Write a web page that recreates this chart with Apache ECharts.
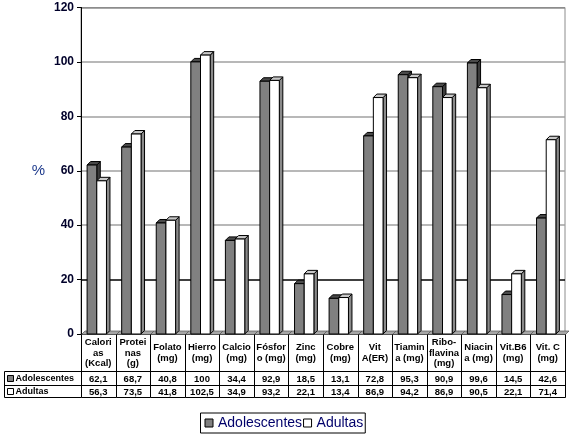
<!DOCTYPE html>
<html><head><meta charset="utf-8">
<script src="https://cdn.jsdelivr.net/npm/echarts@6/dist/echarts.min.js"></script>
<style>html,body{margin:0;padding:0;background:#fff}#c{width:580px;height:439px}</style>
</head><body><div id="c"></div>
<script>
const categories = ['Calori\nas\n(Kcal)','Protei\nnas\n(g)','Folato\n(mg)','Hierro\n(mg)','Calcio\n(mg)','Fósfor\no (mg)','Zinc\n(mg)','Cobre\n(mg)','Vit\nA(ER)','Tiamin\na (mg)','Ribo-\nflavina\n(mg)','Niacin\na (mg)','Vit.B6\n(mg)','Vit. C\n(mg)'];
const seriesNames = ['Adolescentes','Adultas'];
const adolescentes = [62.1,68.7,40.8,100,34.4,92.9,18.5,13.1,72.8,95.3,90.9,99.6,14.5,42.6];
const adultas = [56.3,73.5,41.8,102.5,34.9,93.2,22.1,13.4,86.9,94.2,86.9,90.5,22.1,71.4];
const yTicks = [0,20,40,60,80,100,120];

const FONT = '"Liberation Sans", Arial, sans-serif';
const fmt = v => String(v).replace('.', ',');
const DX = 3.5, DY = 3.5;
const styles = [
  {front:'#808080', top:'#4a4a4a', side:'#3c3c3c'},
  {front:'#ffffff', top:'#c8c8c8', side:'#8a8a8a'}
];

function barRender(s){
  return function(params, api){
    const i = api.value(0), v = api.value(1);
    const top = api.coord([i, v]);
    const base = api.coord([i, 0]);
    const band = api.size([1,0])[0];
    const bw = band*0.28;
    const x = top[0] - 1.5 - bw + s*bw;
    const yT = top[1], yB = base[1];
    const st = styles[s];
    const line = {stroke:'#000', lineWidth:1};
    return {type:'group', children:[
      {type:'polygon', shape:{points:[[x+bw,yT],[x+bw+DX,yT-DY],[x+bw+DX,yB-DY],[x+bw,yB]]}, style:Object.assign({fill:st.side}, line)},
      {type:'polygon', shape:{points:[[x,yT],[x+DX,yT-DY],[x+bw+DX,yT-DY],[x+bw,yT]]}, style:Object.assign({fill:st.top}, line)},
      {type:'rect', shape:{x:x, y:yT, width:bw, height:yB-yT}, style:Object.assign({fill:st.front}, line)}
    ]};
  };
}

function tableRender(params, api){
  const i = api.value(0);
  const band = api.size([1,0])[0];
  const p = api.coord([i, 0]);
  const cx = p[0], base = Math.round(p[1]) + 0.5;
  const x0 = Math.round(cx - band/2) + 0.5, x1 = Math.round(cx + band/2) + 0.5;
  const r1 = base + 37, r2 = base + 51, r3 = base + 63;
  const L = {stroke:'#000', lineWidth:1};
  const ch = [];
  // floor slab
  ch.push({type:'polygon', z2:0, shape:{points:[[x0,base],[x1,base],[x1+DX,base-DY],[x0+DX,base-DY]]}, style:{fill:'#a6a6a6', stroke:'#555', lineWidth:0.7}});
  ch.push({type:'line', shape:{x1:x0,y1:base,x2:x0,y2:r3}, style:L});
  if (i === categories.length-1) ch.push({type:'line', shape:{x1:x1,y1:base,x2:x1,y2:r3}, style:L});
  [r1,r2,r3].forEach(y => ch.push({type:'line', shape:{x1:x0,y1:y,x2:x1,y2:y}, style:L}));
  const tf = 'bold 9.5px ' + FONT;
  ch.push({type:'text', style:{text:categories[i], x:cx, y:(base+r1)/2, align:'center', verticalAlign:'middle', font:tf, lineHeight:10.5, fill:'#000'}});
  ch.push({type:'text', style:{text:fmt(adolescentes[i]), x:cx, y:(r1+r2)/2+0.5, align:'center', verticalAlign:'middle', font:tf, fill:'#000'}});
  ch.push({type:'text', style:{text:fmt(adultas[i]), x:cx, y:(r2+r3)/2+0.5, align:'center', verticalAlign:'middle', font:tf, fill:'#000'}});
  if (i === 0) {
    const lx = x0 - 77;
    [r1,r2,r3].forEach(y => ch.push({type:'line', shape:{x1:lx,y1:y,x2:x0,y2:y}, style:L}));
    ch.push({type:'line', shape:{x1:lx,y1:r1,x2:lx,y2:r3}, style:L});
    const rows = [[r1,r2,'#808080'],[r2,r3,'#ffffff']];
    rows.forEach((r, k) => {
      const my = (r[0]+r[1])/2;
      ch.push({type:'rect', shape:{x:lx+3, y:Math.round(my-3.5)+0.5, width:6, height:6}, style:{fill:r[2], stroke:'#000', lineWidth:1}});
      ch.push({type:'text', style:{text:seriesNames[k], x:lx+11, y:my+0.5, align:'left', verticalAlign:'middle', font:'bold 9px ' + FONT, fill:'#000'}});
    });
  }
  return {type:'group', children:ch};
}

const chart = echarts.init(document.getElementById('c'), null, {renderer:'canvas'});
chart.setOption({
  animation:false,
  backgroundColor:'#fff',
  grid:{left:81, right:15, top:7.5, height:326.5, show:true, borderColor:'#8c8c8c', borderWidth:1, backgroundColor:'transparent'},
  xAxis:{type:'category', data:categories, axisLabel:{show:false}, axisTick:{show:false},
    axisLine:{lineStyle:{color:'#000', width:1}}, splitLine:{show:false}},
  yAxis:{type:'value', min:yTicks[0], max:yTicks[yTicks.length-1], interval:20,
    name:'%', nameLocation:'middle', nameRotate:0, nameGap:36,
    nameTextStyle:{fontFamily:FONT, fontSize:15, color:'#1e3a8c', align:'right'},
    axisLine:{show:true, lineStyle:{color:'#000', width:1}},
    axisTick:{show:true, length:4, lineStyle:{color:'#000'}},
    axisLabel:{margin:7, fontFamily:FONT, fontWeight:'bold', fontSize:12, color:'#00002a'},
    splitLine:{show:true, lineStyle:{color:['#a0a0a0','#000000','#a0a0a0','#a0a0a0','#a0a0a0','#a0a0a0','#8c8c8c'], width:1.5}}},
  legend:{show:true, left:200.5, top:413, orient:'horizontal', borderColor:'#000', borderWidth:1,
    padding:[3,2,3,4], itemGap:1, itemWidth:8, itemHeight:8, icon:'rect',
    textStyle:{fontFamily:FONT, fontSize:14, color:'#00006a', lineHeight:14},
    data:[{name:'Adolescentes', itemStyle:{color:'#808080', borderColor:'#000', borderWidth:1}},
          {name:'Adultas', itemStyle:{color:'#ffffff', borderColor:'#000', borderWidth:1}}]},
  series:[
    {type:'custom', name:'table', z:1, clip:false, silent:true, renderItem:tableRender,
      data:categories.map((c,i)=>[i,0]), encode:{x:0,y:1}},
    {type:'custom', name:'Adolescentes', z:2, clip:false, renderItem:barRender(0),
      itemStyle:{color:'#808080', borderColor:'#000', borderWidth:1},
      data:adolescentes.map((v,i)=>[i,v]), encode:{x:0,y:1}},
    {type:'custom', name:'Adultas', z:3, clip:false, renderItem:barRender(1),
      itemStyle:{color:'#ffffff', borderColor:'#000', borderWidth:1},
      data:adultas.map((v,i)=>[i,v]), encode:{x:0,y:1}}
  ]
});
</script></body></html>
